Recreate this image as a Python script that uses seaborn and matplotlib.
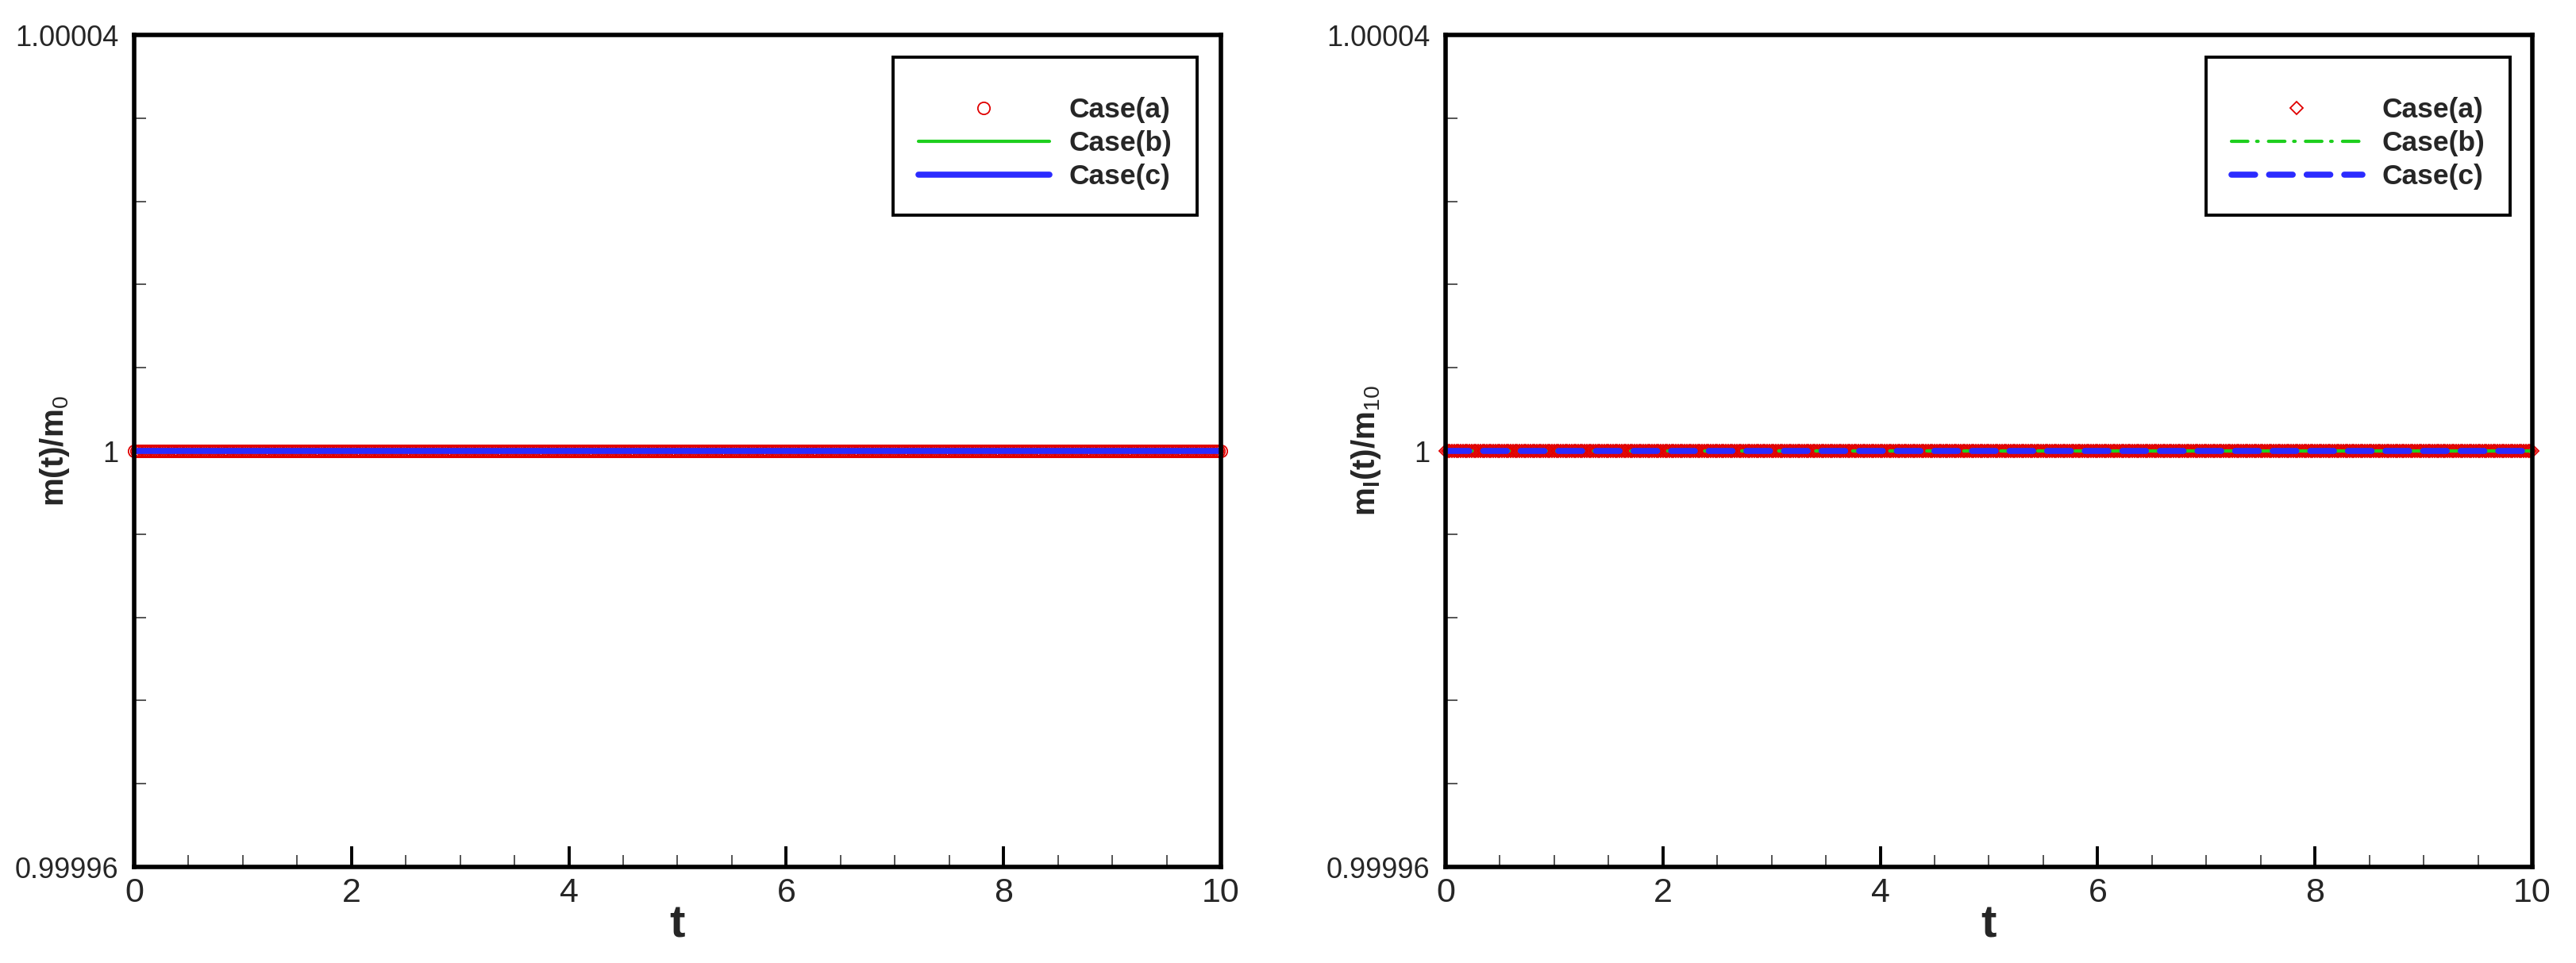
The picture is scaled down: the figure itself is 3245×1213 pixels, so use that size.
import numpy as np
import pandas as pd
import matplotlib
matplotlib.use('Agg')
import matplotlib.pyplot as plt
from matplotlib.ticker import AutoMinorLocator
import seaborn as sns

# datos: la masa se conserva, m(t)/m0 = 1 en todo el intervalo
casos = ['Case(a)', 'Case(b)', 'Case(c)']
t_muestras = np.linspace(0, 10, 501)
nivel_masa = 1.0
masa_total = np.full_like(t_muestras, nivel_masa)
masa_liquido = np.full_like(t_muestras, nivel_masa)

x_ticks = [0, 2, 4, 6, 8, 10]
x_tick_labels = ['0', '2', '4', '6', '8', '10']
y_ticks = [0.99996, 1.0, 1.00004]
y_tick_labels = ['0.99996', '1', '1.00004']

ROJO = '#e00000'
VERDE = '#1ecf1e'
AZUL = '#2b2bff'

sns.set_style('ticks')
plt.rcParams['font.family'] = ['Liberation Sans', 'DejaVu Sans']
plt.rcParams['mathtext.fontset'] = 'custom'
plt.rcParams['mathtext.rm'] = 'Liberation Sans'
plt.rcParams['mathtext.bf'] = 'Liberation Sans:bold'


# funcion para dar formato a cada eje
def estilo_ejes(ax, ylabel):
    ax.set_xlim(0, 10)
    ax.set_ylim(0.99996, 1.00004)
    ax.set_xticks(x_ticks)
    ax.set_xticklabels(x_tick_labels)
    ax.set_yticks(y_ticks)
    ax.set_yticklabels(y_tick_labels)
    ax.xaxis.set_minor_locator(AutoMinorLocator(4))
    ax.yaxis.set_minor_locator(AutoMinorLocator(5))
    ax.tick_params(which='both', direction='in', top=False, right=False)
    ax.tick_params(which='major', length=18.5, width=2.8, color='black')
    ax.tick_params(which='minor', length=10.5, width=1.4, color='#555555')
    ax.tick_params(axis='x', which='major', labelsize=31, pad=9)
    ax.tick_params(axis='y', which='major', labelsize=26, pad=14)
    for s in ax.spines.values():
        s.set_linewidth(4)
        s.set_color('black')
        s.set_zorder(3)
    ax.set_xlabel('t', fontsize=42, fontweight='bold')
    ax.xaxis.set_label_coords(0.5, -0.044)
    ax.set_ylabel(ylabel, fontsize=29)
    ax.yaxis.set_label_coords(-0.058, 0.5)


# leyenda con marco negro; el titulo vacio deja el hueco de arriba
def leyenda(ax, x_anchor):
    leg = ax.legend(loc='upper right', bbox_to_anchor=(x_anchor, 0.9733),
                    prop={'family': 'Liberation Sans', 'weight': 'bold', 'size': 25.5},
                    title=' ', title_fontsize=6.5,
                    frameon=True, fancybox=False, edgecolor='black', framealpha=1,
                    handlelength=4.65, handletextpad=0.7, labelspacing=0.26,
                    borderpad=0.9, borderaxespad=0, numpoints=1)
    leg.get_frame().set_linewidth(2.8)
    return leg


fig = plt.figure(figsize=(32.45, 12.13), dpi=100)
ax1 = fig.add_axes([0.05208, 0.09975, 0.42188, 0.86397])
ax2 = fig.add_axes([0.56117, 0.09975, 0.42188, 0.86397])

df_total = pd.DataFrame({'t': t_muestras, 'm': masa_total})
df_liq = pd.DataFrame({'t': t_muestras, 'm': masa_liquido})

# grafico izquierdo: masa total
sns.lineplot(data=df_total, x='t', y='m', ax=ax1, estimator=None, label=casos[0],
             marker='o', linestyle='', markersize=11, markerfacecolor='none',
             markeredgecolor=ROJO, markeredgewidth=1.3, clip_on=False, zorder=2)
sns.lineplot(data=df_total, x='t', y='m', ax=ax1, estimator=None, label=casos[1],
             color=VERDE, linewidth=3.0, zorder=2.1)
sns.lineplot(data=df_total, x='t', y='m', ax=ax1, estimator=None, label=casos[2],
             color=AZUL, linewidth=5.5, zorder=2.2)
estilo_ejes(ax1, r'$\mathbf{m(t)/m}_{\mathrm{0}}$')
leyenda(ax1, 0.9781)

# grafico derecho: masa de liquido
sns.lineplot(data=df_liq, x='t', y='m', ax=ax2, estimator=None, label=casos[0],
             marker='D', linestyle='', markersize=8.5, markerfacecolor='none',
             markeredgecolor=ROJO, markeredgewidth=1.3, clip_on=False, zorder=2)
sns.lineplot(data=df_liq, x='t', y='m', ax=ax2, estimator=None, label=casos[1],
             color=VERDE, linewidth=3.0, linestyle=(0, (4.95, 2.67, 0.43, 3.14)),
             dash_capstyle='round', zorder=2.1)
sns.lineplot(data=df_liq, x='t', y='m', ax=ax2, estimator=None, label=casos[2],
             color=AZUL, linewidth=5.5, linestyle=(0, (3.9, 2.3)),
             dash_capstyle='round', zorder=2.2)
estilo_ejes(ax2, r'$\mathbf{m}_{\mathbf{l}}\mathbf{(t)/m}_{\mathrm{10}}$')
leyenda(ax2, 0.9795)

fig.savefig('out.png', dpi=100)
